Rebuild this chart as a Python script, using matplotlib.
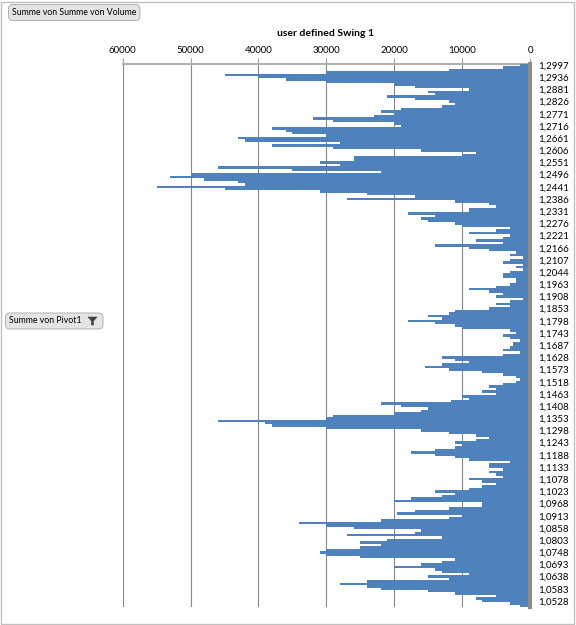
import matplotlib
matplotlib.use("Agg")
import matplotlib.pyplot as plt
from matplotlib.patches import Rectangle, Polygon

plt.rcParams['font.family'] = ['Lato', 'DejaVu Sans']

# Category labels shown on the price axis (every 5th bar, top to bottom)
price_labels = ['1,2997', '1,2936', '1,2881', '1,2826', '1,2771', '1,2716', '1,2661',
                '1,2606', '1,2551', '1,2496', '1,2441', '1,2386', '1,2331', '1,2276',
                '1,2221', '1,2166', '1,2107', '1,2044', '1,1963', '1,1908', '1,1853',
                '1,1798', '1,1743', '1,1687', '1,1628', '1,1573', '1,1518', '1,1463',
                '1,1408', '1,1353', '1,1298', '1,1243', '1,1188', '1,1133', '1,1078',
                '1,1023', '1,0968', '1,0913', '1,0858', '1,0803', '1,0748', '1,0693',
                '1,0638', '1,0583', '1,0528']

# Summe von Volume per price level, top to bottom
volume = [
    1500, 4000, 12000, 30000, 45000, 40000, 36000, 30000, 20000, 17000,
    9000, 15000, 14000, 21000, 17000, 12000, 11000, 13000, 19000, 22000,
    20000, 23000, 32000, 29000, 20000, 19000, 38000, 36000, 35000, 30000,
    43000, 42000, 28000, 38000, 29000, 16000, 8000, 10000, 26000, 26000,
    31000, 28000, 46000, 35000, 22000, 50000, 53000, 48000, 43000, 42000,
    55000, 45000, 31000, 24000, 17000, 27000, 11000, 6000, 5000, 9000,
    9000, 18000, 14000, 16000, 15000, 11000, 10000, 3000, 5000, 9000,
    3000, 4000, 8000, 4000, 14000, 9000, 6000, 2000, 3000, 1000,
    3000, 4000, 1000, 2000, 1000, 3000, 4000, 4000, 2000, 2000,
    3000, 5000, 9000, 6000, 4000, 5000, 1000, 3000, 5000, 3000,
    6000, 11000, 12000, 15000, 13000, 18000, 14000, 11000, 10000, 3000,
    2000, 4000, 3000, 1500, 2500, 2500, 3000, 4000, 1500, 4000,
    13000, 11000, 9000, 13000, 15500, 12000, 7000, 4000, 2000, 1500,
    2000, 4000, 6000, 5000, 7000, 5000, 10000, 9000, 11700, 22000,
    19000, 15000, 16000, 20000, 29000, 30000, 46000, 39000, 38000, 30000,
    16000, 12000, 8000, 6000, 8000, 11000, 10000, 11000, 14000, 17600,
    14000, 11000, 9000, 3000, 6000, 6000, 4000, 6000, 5000, 4000,
    9000, 7000, 5000, 7000, 9000, 14000, 11000, 13000, 17600, 20000,
    7000, 7000, 12000, 17000, 19600, 10000, 12000, 22000, 34000, 30000,
    26000, 16000, 17000, 27000, 13000, 21000, 25000, 22000, 25000, 30000,
    31000, 30000, 25000, 11000, 13000, 16000, 20000, 14000, 13000, 9000,
    15000, 12000, 24000, 28000, 24000, 22000, 15000, 11000, 5000, 8000,
    7000, 3000, 1500,
]

x_ticks = [0, 10000, 20000, 30000, 40000, 50000, 60000]

fig = plt.figure(figsize=(5.76, 6.25), dpi=100)
W, H = 576.0, 625.0
top, bottom, left, right = 63.8, 607.1, 122.7, 530.0
ax = fig.add_axes([left / W, 1 - bottom / H, (right - left) / W, (bottom - top) / H])

positions = list(range(len(volume)))
ax.barh(positions, volume, height=1.0, color='#4F81BD', linewidth=0, zorder=3)

ax.set_xlim(60000, 0)
ax.set_ylim(len(volume) - 0.5, -0.5)

ax.set_xticks(x_ticks)
ax.set_xticklabels([str(t) for t in x_ticks])
ax.xaxis.set_ticks_position('top')
ax.tick_params(axis='x', top=True, labeltop=True, bottom=False, labelbottom=False,
               length=4, pad=2, labelsize=7, color='#a0a0a0')
ax.xaxis.grid(True, color='#868686', linewidth=0.8, zorder=0)

ax.set_yticks(positions[::5])
ax.set_yticklabels(price_labels)
ax.tick_params(axis='y', left=False, labelleft=False, right=True, labelright=True,
               length=0, pad=6, labelsize=7)

for s in ['left', 'bottom']:
    ax.spines[s].set_visible(False)
ax.spines['top'].set_color('#b0b0b0')
ax.spines['top'].set_linewidth(1.5)
ax.spines['right'].set_color('#8c8c8c')
ax.spines['right'].set_linewidth(3)
ax.spines['right'].set_zorder(4)

fig.text(326 / W, 1 - 33 / H, 'user defined Swing 1', ha='center', va='center',
         fontsize=7.5, fontweight='bold')

# pivot field buttons
btn = dict(boxstyle='round,pad=0.4,rounding_size=0.5', fc='#e4e4e4', ec='#a6a6a6', lw=0.6)
fig.text(12 / W, 1 - 12.5 / H, 'Summe von Summe von Volume', ha='left', va='center',
         fontsize=6.3, bbox=btn)
fig.text(9 / W, 1 - 321 / H, 'Summe von Pivot1        ', ha='left', va='center',
         fontsize=6.3, bbox=btn)
funnel = [(88, 317), (97, 317), (93.5, 321), (93.5, 325), (91.5, 325), (91.5, 321)]
fig.add_artist(Polygon([(x / W, 1 - y / H) for x, y in funnel], closed=True,
                       transform=fig.transFigure, fc='#404040', ec='#404040', lw=0.4,
                       zorder=10))

# chart area border
fig.add_artist(Rectangle((0.5 / W, 1.5 / H), 573 / W, 621.5 / H, transform=fig.transFigure,
                         fill=False, ec='#c0c0c0', lw=1))

fig.savefig('out.png', dpi=100)
